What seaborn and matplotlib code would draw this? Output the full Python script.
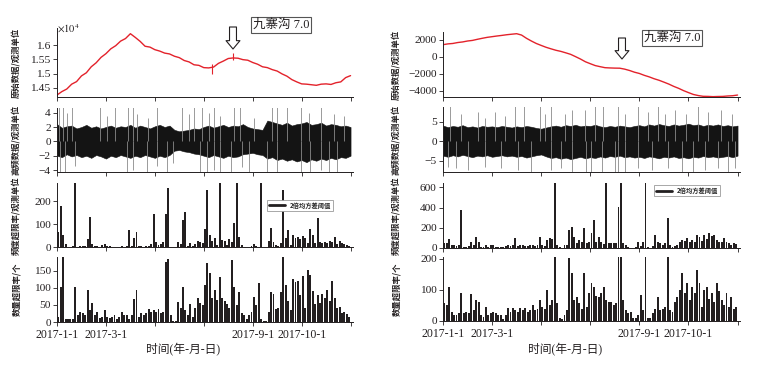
import numpy as np
import matplotlib
matplotlib.use('Agg')
import matplotlib.pyplot as plt
import seaborn as sns
from matplotlib.lines import Line2D
from matplotlib.patches import FancyArrowPatch

# ---- data (x axis in tick units: 0 = 2017-1-1 ... 6 = end) ----
tick_labels = ['2017-1-1', '2017-3-1', '', '', '2017-9-1', '2017-10-1', '']

# raw data (left in 1e4 units, right in raw units), one value every 0.1 tick unit
raw_left = [1.425, 1.437, 1.446, 1.463, 1.472, 1.492, 1.503, 1.524, 1.538, 1.557,
            1.570, 1.587, 1.598, 1.614, 1.623, 1.640, 1.627, 1.613, 1.596, 1.593,
            1.584, 1.579, 1.572, 1.569, 1.561, 1.556, 1.546, 1.541, 1.531, 1.529,
            1.521, 1.520, 1.523, 1.536, 1.544, 1.553, 1.555, 1.554, 1.549, 1.547,
            1.539, 1.533, 1.524, 1.521, 1.514, 1.509, 1.499, 1.491, 1.479, 1.471,
            1.464, 1.463, 1.461, 1.459, 1.463, 1.464, 1.462, 1.468, 1.471, 1.486,
            1.493]
raw_right = [1450, 1540, 1590, 1700, 1770, 1880, 1950, 2080, 2200, 2310,
             2390, 2470, 2540, 2620, 2680, 2740, 2580, 2200, 1880, 1590,
             1360, 1140, 960, 790, 660, 490, 310, 40, -240, -560,
             -790, -1010, -1140, -1260, -1290, -1310, -1320, -1430, -1590, -1790,
             -1940, -2160, -2340, -2560, -2740, -2960, -3190, -3460, -3690, -3960,
             -4190, -4410, -4540, -4630, -4640, -4670, -4650, -4640, -4590, -4560,
             -4480]
raw_spike_x = [3.17, 3.6]
raw_spike_lo = [1.500, 1.548]
raw_spike_hi = [1.535, 1.572]

# high-frequency data: envelope of the dense band + isolated spikes
hf_left_up = [2.4, 1.9, 2.1, 2.2, 1.8, 2.0, 2.3, 1.9, 2.1, 1.8,
              2.0, 2.2, 1.9, 2.1, 2.0, 2.3, 1.9, 2.2, 2.0, 1.8,
              2.1, 2.3, 2.0, 2.2, 1.6, 1.4, 1.5, 1.6, 1.8, 1.7,
              2.0, 2.2, 1.9, 2.1, 2.3, 2.0, 2.2, 2.1, 2.4, 2.0,
              1.8, 1.7, 1.6, 2.9, 2.7, 2.5, 2.3, 2.6, 2.2, 2.4,
              2.5, 2.7, 2.3, 2.4, 2.6, 2.2, 2.4, 2.3, 2.1, 2.2, 2.0]
hf_left_lo = [-2.0, -2.2, -1.8, -2.1, -1.9, -2.2, -2.0, -2.3, -1.9, -2.1,
              -2.4, -2.0, -2.2, -1.9, -2.1, -2.3, -2.0, -2.2, -1.9, -2.1,
              -2.3, -2.0, -2.2, -1.9, -1.3, -1.2, -1.4, -1.5, -1.7, -1.8,
              -2.0, -2.2, -1.9, -2.1, -2.3, -2.0, -2.2, -2.1, -1.8, -1.7,
              -1.6, -1.8, -1.9, -2.4, -2.2, -2.6, -2.4, -2.7, -2.5, -2.8,
              -2.6, -2.9, -2.5, -2.7, -2.4, -2.6, -2.3, -2.5, -2.2, -2.3, -2.0]
hf_right_up = [4.0, 3.6, 3.9, 3.7, 4.1, 3.6, 3.8, 3.5, 3.9, 3.7,
               3.8, 3.6, 3.9, 3.7, 3.5, 3.8, 3.6, 3.9, 3.7, 3.4,
               3.2, 3.5, 3.8, 4.0, 3.7, 4.1, 3.9, 4.2, 3.8, 4.0,
               3.9, 4.2, 3.8, 3.6, 3.9, 3.7, 4.0, 3.8, 3.6, 3.9,
               4.1, 3.8, 4.3, 4.0, 4.4, 4.1, 3.9, 4.3, 4.0, 4.2,
               4.5, 4.1, 4.3, 3.9, 4.2, 4.0, 4.3, 3.9, 4.1, 3.8, 4.0]
hf_right_lo = [-3.7, -4.0, -3.6, -3.9, -3.5, -3.8, -4.1, -3.7, -3.9, -3.6,
               -4.0, -3.8, -3.6, -3.9, -3.7, -4.0, -3.8, -4.2, -3.9, -3.6,
               -3.4, -3.9, -4.3, -4.1, -4.5, -4.2, -4.6, -4.3, -4.0, -4.4,
               -4.1, -4.3, -3.9, -4.2, -3.8, -4.0, -3.7, -4.1, -3.9, -4.2,
               -4.0, -4.3, -3.9, -4.1, -4.4, -4.0, -4.2, -3.9, -4.3, -4.1,
               -4.4, -4.0, -4.2, -3.8, -4.1, -3.9, -4.2, -4.0, -3.8, -4.1, -3.7]

spk_left_up_x = [0.05, 0.13, 0.2, 0.3, 0.88, 1.02, 1.19, 1.46, 1.56, 1.63,
                 1.87, 2.04, 2.55, 2.69, 2.79, 2.96, 3.1, 3.2, 3.34, 3.61,
                 3.75, 4.02, 4.4, 4.5, 4.71, 4.98, 5.15, 5.39, 5.66, 5.87]
spk_left_up_y = [4.8, 4.8, 4.0, 4.8, 4.8, 3.5, 4.8, 4.8, 4.8, 3.8,
                 3.2, 4.8, 4.8, 3.8, 4.8, 4.8, 4.0, 4.8, 3.6, 4.8,
                 4.8, 3.2, 4.8, 4.8, 4.8, 4.8, 4.0, 4.8, 3.8, 3.5]
spk_left_dn_x = [0.06, 0.16, 0.37, 1.43, 1.56, 1.84, 2.04, 2.25, 2.38, 2.93,
                 3.07, 3.2, 3.34, 3.55, 3.78, 3.92, 4.3, 4.5, 4.98, 5.18,
                 5.39, 5.56, 5.73]
spk_left_dn_y = [-4.5, -4.5, -3.5, -4.5, -4.0, -4.5, -3.5, -4.5, -3.0, -4.5,
                 -4.5, -4.0, -4.5, -4.5, -3.6, -4.5, -4.5, -4.5, -4.5, -4.5,
                 -4.0, -4.5, -4.5]
spk_right_up_x = [0.14, 0.37, 0.71, 0.85, 1.05, 1.26, 1.46, 1.66, 1.97, 2.07,
                  2.21, 2.48, 2.62, 2.89, 3.09, 3.26, 3.57, 3.7, 3.97, 4.18,
                  4.38, 4.52, 4.72, 4.96, 5.2, 5.4, 5.67, 5.88]
spk_right_up_y = [8.9, 7.0, 7.5, 6.0, 7.5, 6.5, 8.9, 8.9, 8.9, 7.0,
                  8.9, 7.0, 8.0, 8.0, 8.9, 8.9, 8.9, 7.0, 8.9, 7.5,
                  8.9, 7.0, 8.0, 7.0, 8.9, 7.5, 8.0, 7.0]
spk_right_dn_x = [0.1, 0.27, 0.51, 0.85, 1.19, 1.53, 1.8, 2.21, 2.41, 2.62,
                  2.92, 3.02, 3.23, 3.5, 3.57, 3.7, 3.97, 4.25, 4.59, 4.86,
                  5.1, 5.33, 5.6, 5.81, 5.94]
spk_right_dn_y = [-6.5, -7.0, -7.5, -6.5, -7.0, -7.5, -8.3, -7.5, -7.0, -8.3,
                  -8.3, -8.3, -8.3, -8.3, -8.3, -8.3, -7.0, -7.5, -7.0, -8.3,
                  -8.3, -7.5, -7.0, -8.3, -7.0]

# frequency exceed rate (观测单位), 120 bins
freq_left = [67, 177, 53, 14, 0, 3, 5, 290, 3, 5,
             6, 8, 37, 131, 17, 5, 8, 4, 12, 13,
             8, 5, 3, 2, 3, 2, 5, 4, 8, 74,
             5, 43, 67, 8, 6, 4, 8, 6, 17, 146,
             24, 10, 17, 24, 146, 257, 3, 0, 2, 24,
             15, 120, 153, 8, 20, 6, 15, 30, 22, 18,
             81, 246, 53, 30, 39, 12, 290, 31, 30, 12,
             35, 22, 106, 290, 46, 10, 2, 0, 3, 5,
             15, 8, 3, 290, 0, 0, 30, 86, 24, 12,
             8, 20, 246, 39, 74, 12, 53, 40, 46, 35,
             48, 39, 20, 81, 53, 20, 129, 22, 20, 25,
             20, 30, 25, 46, 15, 27, 18, 15, 10, 8]
freq_right = [43, 43, 83, 27, 27, 20, 27, 376, 10, 10,
              20, 60, 27, 103, 60, 10, 8, 27, 10, 27,
              27, 10, 5, 10, 5, 20, 27, 15, 30, 93,
              15, 27, 30, 20, 15, 27, 30, 20, 27, 110,
              27, 20, 77, 93, 83, 660, 27, 5, 0, 27,
              27, 177, 210, 110, 50, 77, 60, 193, 43, 60,
              143, 277, 60, 110, 60, 40, 660, 50, 50, 43,
              50, 410, 660, 43, 27, 5, 0, 0, 5, 60,
              20, 60, 660, 10, 0, 20, 127, 60, 43, 30,
              43, 293, 27, 10, 17, 30, 60, 77, 70, 93,
              60, 77, 60, 127, 110, 70, 127, 90, 143, 117,
              127, 77, 60, 60, 93, 60, 43, 27, 50, 40]
# count exceed rate (个)
count_left = [15, 103, 191, 10, 8, 10, 8, 101, 20, 29,
              25, 20, 93, 34, 56, 20, 29, 12, 15, 34,
              15, 12, 15, 20, 8, 15, 29, 20, 20, 10,
              20, 66, 95, 15, 25, 20, 25, 39, 29, 36,
              30, 39, 25, 30, 175, 183, 20, 2, 2, 59,
              40, 103, 34, 20, 54, 15, 40, 69, 55, 49,
              108, 172, 144, 70, 93, 64, 132, 69, 60, 54,
              40, 181, 101, 50, 88, 25, 20, 8, 20, 30,
              72, 50, 113, 10, 2, 2, 30, 88, 83, 39,
              40, 88, 195, 108, 60, 35, 127, 118, 121, 80,
              134, 40, 152, 137, 90, 54, 78, 55, 83, 69,
              95, 60, 121, 69, 40, 44, 25, 29, 22, 15]
count_right = [57, 50, 111, 30, 19, 19, 25, 91, 25, 30,
               25, 87, 35, 68, 62, 20, 14, 46, 20, 25,
               30, 25, 19, 19, 5, 19, 41, 30, 41, 35,
               30, 41, 35, 41, 30, 35, 52, 35, 40, 66,
               46, 40, 100, 50, 68, 215, 57, 9, 5, 20,
               35, 202, 154, 68, 78, 57, 40, 156, 46, 89,
               121, 111, 80, 78, 89, 111, 68, 60, 62, 50,
               57, 215, 215, 68, 35, 25, 30, 9, 9, 20,
               84, 35, 215, 9, 9, 25, 40, 78, 35, 40,
               46, 215, 35, 30, 60, 78, 100, 154, 90, 121,
               68, 111, 90, 164, 121, 46, 100, 111, 70, 89,
               60, 121, 95, 68, 50, 89, 46, 78, 40, 46]

ylabels = ['原始数据/观测单位', '高频数据/观测单位', '频度超限率/观测单位', '数量超限率/个']

# ---- style ----
sns.set_theme(style='ticks')
plt.rcParams['font.family'] = ['Liberation Serif', 'Noto Sans CJK SC']
plt.rcParams['mathtext.fontset'] = 'stix'
ink = '#231f20'
plt.rcParams.update({
    'axes.edgecolor': ink, 'axes.linewidth': 0.7,
    'xtick.color': ink, 'ytick.color': ink,
    'xtick.major.size': 3, 'ytick.major.size': 3,
    'xtick.major.width': 0.6, 'ytick.major.width': 0.6,
    'xtick.labelsize': 8.5, 'ytick.labelsize': 8.2,
    'xtick.major.pad': 2, 'ytick.major.pad': 1.5,
})

W, H = 771, 377
fig = plt.figure(figsize=(W / 100, H / 100), dpi=100)


def add_ax(x0, x1, y0, y1):
    return fig.add_axes([x0 / W, 1 - y1 / H, (x1 - x0) / W, (y1 - y0) / H])


cols = [
    dict(x=(57, 353), rows=[(28, 97), (108, 172), (183, 247.5), (257, 322)],
         ylims=[(1.418, 1.66), (-4.27, 4.65), (0, 278), (0, 190)],
         yticks=[[1.45, 1.5, 1.55, 1.6], [-4, -2, 0, 2, 4], [0, 100, 200], [0, 50, 100, 150]],
         raw=raw_left, up=hf_left_up, lo=hf_left_lo,
         sux=spk_left_up_x, suy=spk_left_up_y, sdx=spk_left_dn_x, sdy=spk_left_dn_y,
         freq=freq_left, count=count_left, leg_anchor=(0.70, 0.79), label_x=-0.12),
    dict(x=(443, 740), rows=[(32, 97), (107, 172), (183, 247.7), (257, 321)],
         ylims=[(-4710, 2940), (-7.9, 8.77), (0, 644), (0, 206)],
         yticks=[[-4000, -2000, 0, 2000], [-5, 0, 5], [0, 200, 400, 600], [0, 100, 200]],
         raw=raw_right, up=hf_right_up, lo=hf_right_lo,
         sux=spk_right_up_x, suy=spk_right_up_y, sdx=spk_right_dn_x, sdy=spk_right_dn_y,
         freq=freq_right, count=count_right, leg_anchor=(0.70, 1.02), label_x=-0.14),
]

cjk_bold = dict(family='Noto Sans CJK SC', weight='bold', size=6, color=ink)

for ci, c in enumerate(cols):
    axes = [add_ax(c['x'][0], c['x'][1], r[0], r[1]) for r in c['rows']]

    # raw data
    ax = axes[0]
    xr = np.linspace(0, 6, len(c['raw']))
    sns.lineplot(x=xr, y=c['raw'], ax=ax, color='#e3222b', lw=1.0)
    if ci == 0:
        ax.vlines(raw_spike_x, raw_spike_lo, raw_spike_hi, color='#e3222b', lw=0.8)

    # high-frequency band
    ax = axes[1]
    xh = np.linspace(0, 6, len(c['up']))
    ax.vlines(c['sux'], 0, c['suy'], color='#8a8a8a', lw=0.6)
    ax.vlines(c['sdx'], c['sdy'], 0, color='#8a8a8a', lw=0.6)
    ax.fill_between(xh, c['lo'], c['up'], color='#141414', lw=0.4, edgecolor='#141414')

    # bars
    xb = np.arange(len(c['freq'])) * 0.05 + 0.025
    axes[2].bar(xb, c['freq'], width=0.04, color=ink, lw=0)
    axes[3].bar(xb, c['count'], width=0.04, color=ink, lw=0)

    leg = axes[2].legend(handles=[Line2D([], [], color=ink, lw=2)], labels=['2倍均方差阈值'],
                         loc='upper left', bbox_to_anchor=c['leg_anchor'],
                         prop=dict(family='Noto Sans CJK SC', weight='bold', size=4.5),
                         frameon=True, fancybox=False, edgecolor='#9a9a9a',
                         handlelength=2.5, borderpad=0.3, framealpha=1)
    leg.get_frame().set_linewidth(0.6)

    for k, ax in enumerate(axes):
        ax.set_xlim(0, 6.05)
        ax.set_ylim(*c['ylims'][k])
        ax.set_yticks(c['yticks'][k])
        ax.set_xticks(range(7))
        if k == 3:
            ax.set_xticklabels(tick_labels)
        else:
            ax.set_xticklabels([])
        if k == 0 and ci == 0:
            ax.set_yticklabels(['%g' % v for v in c['yticks'][k]])
        ax.set_ylabel(ylabels[k], fontdict=cjk_bold)
        ax.yaxis.set_label_coords(c['label_x'], 0.5)
        sns.despine(ax=ax)

    # x axis title
    fig.text((183 if ci == 0 else 565) / W, 1 - 350 / H, '时间(年-月-日)',
             ha='center', va='center', fontsize=8.5, color=ink)

fig.text(57 / W, 1 - 29 / H, r'$\times10^4$', fontsize=7.5, color=ink, ha='left', va='center')

# earthquake marks
for ax_x, y0, y1, tx, ty in [(233, 27, 49, 281, 25), (622, 38, 59, 672, 38)]:
    fig.add_artist(FancyArrowPatch((ax_x / W, 1 - y0 / H), (ax_x / W, 1 - y1 / H),
                                   transform=fig.transFigure,
                                   arrowstyle='simple,head_length=0.6,head_width=1.0,tail_width=0.5',
                                   mutation_scale=10, fc='white', ec=ink, lw=0.8,
                                   shrinkA=0, shrinkB=0))
    fig.text(tx / W, 1 - ty / H, '九寨沟 7.0', ha='center', va='center', fontsize=9, color=ink,
             bbox=dict(boxstyle='square,pad=0.15', fc='white', ec='#555555', lw=0.8))

fig.savefig('out.png', dpi=100)
